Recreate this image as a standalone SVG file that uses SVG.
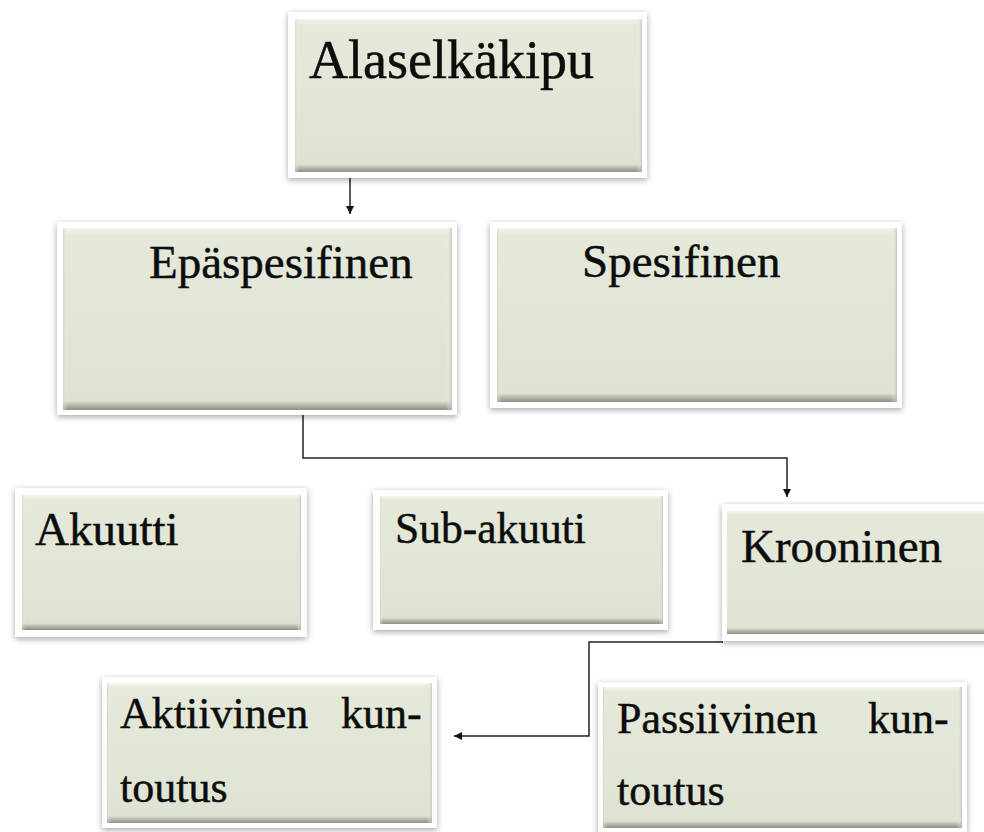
<svg xmlns="http://www.w3.org/2000/svg" width="984" height="832" viewBox="0 0 984 832">
<defs>
<filter id="sh" x="-10%" y="-10%" width="120%" height="125%">
<feDropShadow dx="0" dy="2" stdDeviation="3" flood-color="#000" flood-opacity="0.35"/>
</filter>
<linearGradient id="fillV" x1="0" y1="0" x2="0" y2="1">
<stop offset="0" stop-color="#f3f5ea"/>
<stop offset="0.035" stop-color="#e5e9da"/>
<stop offset="0.5" stop-color="#e1e6d6"/>
<stop offset="0.95" stop-color="#dde2d2"/>
<stop offset="0.972" stop-color="#b7baaa"/>
<stop offset="1" stop-color="#8f9284"/>
</linearGradient>
<linearGradient id="edgeH" x1="0" y1="0" x2="1" y2="0">
<stop offset="0" stop-color="#c8ccbc" stop-opacity="0.6"/>
<stop offset="0.012" stop-color="#ffffff" stop-opacity="0"/>
<stop offset="0.985" stop-color="#ffffff" stop-opacity="0"/>
<stop offset="1" stop-color="#b9bcae" stop-opacity="0.7"/>
</linearGradient>
<marker id="arr" viewBox="0 0 10 10" refX="10" refY="5" markerWidth="8" markerHeight="8" markerUnits="userSpaceOnUse" orient="auto">
<path d="M0,0 L10,5 L0,10 z" fill="#111"/>
</marker>
<style>
.frame{fill:#ffffff;filter:url(#sh);}
.face{fill:url(#fillV);}
.edge{fill:url(#edgeH);}
.lbl{font-family:"Liberation Serif","Times New Roman",serif;fill:#0d0d0d;stroke:#0d0d0d;stroke-width:0.45;}
.con{fill:none;stroke:#222;stroke-width:1.5;}
</style>
</defs>

<g id="connectors">
<path class="con" d="M350,178 V214" marker-end="url(#arr)"/>
<path class="con" d="M303,415 V458 H787 V497" marker-end="url(#arr)"/>
<path class="con" d="M723,642 H589 V736 H454" marker-end="url(#arr)"/>
</g>

<g id="alaselkakipu">
<rect class="frame" x="288" y="12" width="359" height="166"/>
<rect class="face" x="295" y="19" width="347" height="153"/>
<rect class="edge" x="295" y="19" width="347" height="153"/>
<text class="lbl" x="309" y="78" font-size="54">Alaselkäkipu</text>
</g>

<g id="epaspesifinen">
<rect class="frame" x="57" y="222" width="400" height="193"/>
<rect class="face" x="63" y="228" width="389" height="182"/>
<rect class="edge" x="63" y="228" width="389" height="182"/>
<text class="lbl" x="149" y="278" font-size="47">Epäspesifinen</text>
</g>

<g id="spesifinen">
<rect class="frame" x="490" y="222" width="412" height="186"/>
<rect class="face" x="497" y="228" width="400" height="174"/>
<rect class="edge" x="497" y="228" width="400" height="174"/>
<text class="lbl" x="582" y="277" font-size="47">Spesifinen</text>
</g>

<g id="akuutti">
<rect class="frame" x="15" y="488" width="292" height="149"/>
<rect class="face" x="22" y="495" width="279" height="135"/>
<rect class="edge" x="22" y="495" width="279" height="135"/>
<text class="lbl" x="35" y="545" font-size="47">Akuutti</text>
</g>

<g id="subakuuti">
<rect class="frame" x="373" y="490" width="295" height="140"/>
<rect class="face" x="380" y="496" width="283" height="128"/>
<rect class="edge" x="380" y="496" width="283" height="128"/>
<text class="lbl" x="395" y="543" font-size="43.5">Sub-akuuti</text>
</g>

<g id="krooninen">
<rect class="frame" x="722" y="504" width="275" height="137"/>
<rect class="face" x="727" y="511" width="265" height="123"/>
<text class="lbl" x="741" y="562" font-size="47">Krooninen</text>
</g>

<g id="aktiivinen">
<rect class="frame" x="102" y="677" width="335" height="151"/>
<rect class="face" x="107" y="683" width="325" height="140"/>
<rect class="edge" x="107" y="683" width="325" height="140"/>
<text class="lbl" font-size="44"><tspan x="120" y="728">Aktiivinen</tspan><tspan x="341" y="728">kun-</tspan><tspan x="120" y="802">toutus</tspan></text>
</g>

<g id="passiivinen">
<rect class="frame" x="598" y="682" width="369" height="152"/>
<rect class="face" x="603" y="687" width="359" height="141"/>
<rect class="edge" x="603" y="687" width="359" height="141"/>
<text class="lbl" font-size="44"><tspan x="617" y="733">Passiivinen</tspan><tspan x="868" y="733">kun-</tspan><tspan x="617" y="805">toutus</tspan></text>
</g>
</svg>
